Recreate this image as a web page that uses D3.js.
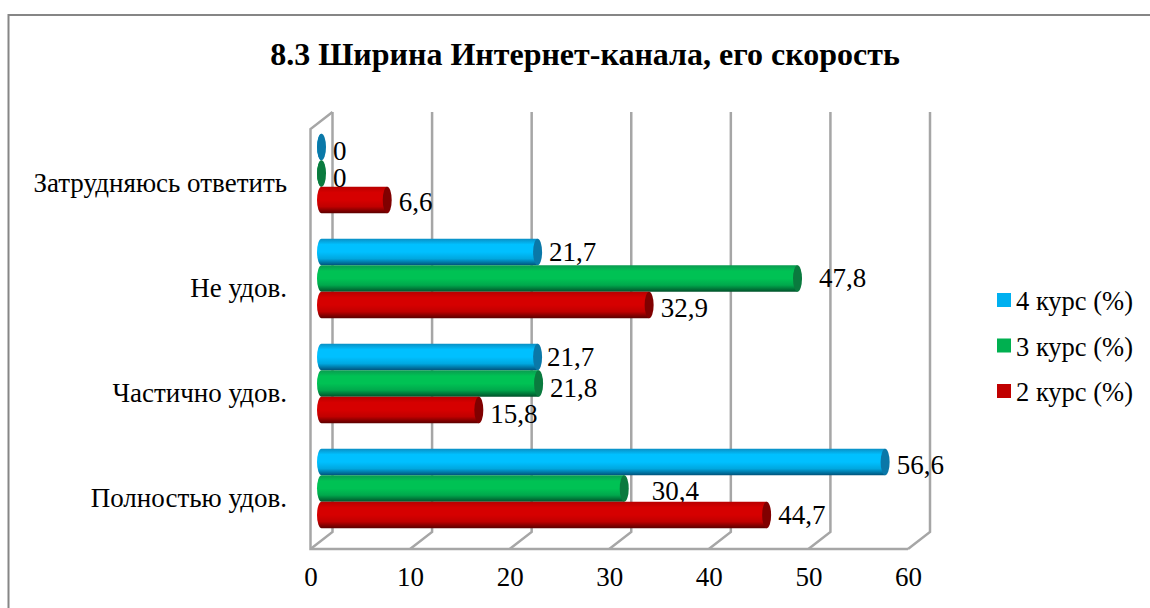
<!DOCTYPE html>
<html>
<head>
<meta charset="utf-8">
<script src="https://cdn.jsdelivr.net/npm/d3@7"></script>
<style>
  html, body { margin: 0; padding: 0; background: #fff; }
  svg { display: block; }
  text { font-family: "Liberation Serif", serif; fill: #000; }
</style>
</head>
<body>
<div id="chart"></div>
<script>
const categories = ["Затрудняюсь ответить", "Не удов.", "Частично удов.", "Полностью удов."];
const seriesNames = ["4 курс (%)", "3 курс (%)", "2 курс (%)"];
const course4 = [0, 21.7, 21.7, 56.6];
const course3 = [0, 47.8, 21.8, 30.4];
const course2 = [6.6, 32.9, 15.8, 44.7];
const xTicks = [0, 10, 20, 30, 40, 50, 60];

const allValues = [course4, course3, course2];
const colors = [
  { id: "c4", edge: "#0a8fc4", dark: "#00527a", mid: "#00a8e0", light: "#00c0ff", cap: "#0a78a8", key: "#00b0f0" },
  { id: "c3", edge: "#0a9a50", dark: "#00512a", mid: "#00a84c", light: "#00c254", cap: "#0a7a3e", key: "#00b050" },
  { id: "c2", edge: "#b80000", dark: "#5a0000", mid: "#c00000", light: "#d60000", cap: "#800000", key: "#c00000" }
];

const width = 1150, height = 608;
const svg = d3.select("#chart").append("svg")
  .attr("width", width)
  .attr("height", height);

// gradients for the cylinders
const defs = svg.append("defs");
colors.forEach(c => {
  const g = defs.append("linearGradient")
    .attr("id", c.id).attr("x1", 0).attr("y1", 0).attr("x2", 0).attr("y2", 1);
  g.append("stop").attr("offset", "0%").attr("stop-color", c.edge);
  g.append("stop").attr("offset", "22%").attr("stop-color", c.light);
  g.append("stop").attr("offset", "50%").attr("stop-color", c.light);
  g.append("stop").attr("offset", "75%").attr("stop-color", c.mid);
  g.append("stop").attr("offset", "100%").attr("stop-color", c.dark);
});

// chart frame, cut by the picture's right and bottom edges
svg.append("path")
  .attr("d", "M8.5,608V15H1150")
  .attr("fill", "none")
  .attr("stroke", "#868686")
  .attr("stroke-width", 2);

svg.append("text")
  .attr("x", 585).attr("y", 65)
  .attr("text-anchor", "middle")
  .attr("font-size", 32)
  .attr("font-weight", "bold")
  .text("8.3 Ширина Интернет-канала, его скорость");

const floorY = 549, depthX = 22, depthY = 17, wallTop = 112;
const x = d3.scaleLinear().domain([0, 60]).range([310.5, 908]);
const y = d3.scaleBand().domain(categories).range([121, 541]).paddingInner(0.243).paddingOuter(0.1215);
const ySeries = d3.scaleBand().domain(seriesNames).range([0, y.bandwidth()]);
const barShift = 11, capR = 4.5;

// walls
const wall = svg.append("g").attr("fill", "none").attr("stroke", "#a6a6a6").attr("stroke-width", 2.5);
wall.selectAll("path.grid").data(xTicks).join("path")
  .attr("class", "grid")
  .attr("d", d => `M${x(d) + depthX},${wallTop}V${floorY - depthY}L${x(d)},${floorY}`);
wall.append("path")
  .attr("d", `M${x(0) + depthX},${wallTop}L${x(0)},${wallTop + depthY}V${floorY}H${x(60)}`);

// tick labels
const axis = svg.append("g")
  .attr("transform", `translate(0,${floorY})`)
  .call(d3.axisBottom(x).tickValues(xTicks).tickSize(0).tickPadding(18).tickFormat(d3.format("d")));
axis.select(".domain").remove();
axis.selectAll("text").attr("font-size", 27).attr("font-family", "Liberation Serif").attr("fill", "#000");

// category labels
svg.selectAll("text.cat").data(categories).join("text")
  .attr("class", "cat")
  .attr("x", 287)
  .attr("y", d => y(d) + y.bandwidth() / 2 + 18.5)
  .attr("text-anchor", "end")
  .attr("font-size", 27)
  .text(d => d);

// value labels need a few hand nudges to sit where the original has them
const labelNudge = {
  "0-0": [0, 2], "1-0": [0, 2.5], "2-0": [0, 0],
  "0-1": [0, -2.5], "1-1": [10, -2.5], "2-1": [0, 1],
  "0-2": [-2, -2], "1-2": [0, 2], "2-2": [0, 2],
  "0-3": [0, 1], "1-3": [16, 0], "2-3": [0, -2]
};

seriesNames.forEach((name, s) => {
  const c = colors[s];
  const g = svg.append("g");
  allValues[s].forEach((v, i) => {
    const top = y(categories[i]) + ySeries(name);
    const h = ySeries.bandwidth();
    const x0 = x(0) + barShift;
    const x1 = x(v) + barShift;
    g.append("path")
      .attr("d", `M${x0},${top}H${x1}V${top + h}H${x0}A${capR},${h / 2} 0 0 1 ${x0},${top}Z`)
      .attr("fill", `url(#${c.id})`);
    g.append("ellipse")
      .attr("cx", x1).attr("cy", top + h / 2)
      .attr("rx", capR).attr("ry", h / 2)
      .attr("fill", c.cap);
    const nudge = labelNudge[s + "-" + i];
    g.append("text")
      .attr("x", x1 + capR + 7 + nudge[0])
      .attr("y", top + h / 2 + 11 + nudge[1])
      .attr("font-size", 27)
      .text(String(v).replace(".", ","));
  });
});

// legend
const legend = svg.append("g").selectAll("g").data(seriesNames).join("g")
  .attr("transform", (d, i) => `translate(997,${293 + i * 45.5})`);
legend.append("rect")
  .attr("width", 14).attr("height", 14)
  .attr("fill", (d, i) => colors[i].key);
legend.append("text")
  .attr("x", 19).attr("y", 17)
  .attr("font-size", 26.5)
  .text(d => d);
</script>
</body>
</html>
